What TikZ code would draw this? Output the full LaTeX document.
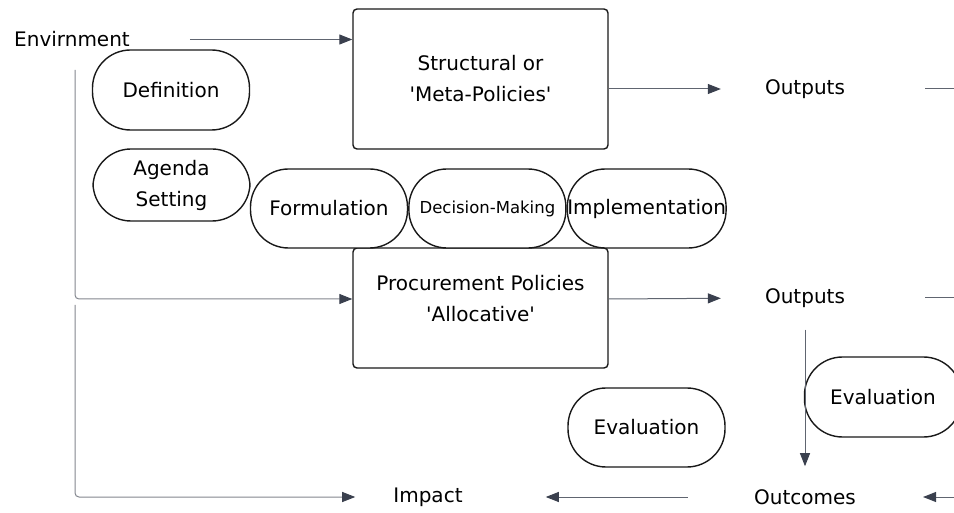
\documentclass[tikz,border=0pt]{standalone}
\usepackage{fontspec}
\setmainfont{DejaVu Sans}
\usepackage{tikz}
\usetikzlibrary{positioning,arrows.meta}
\definecolor{linegray}{RGB}{96,101,112}
\definecolor{tipgray}{RGB}{58,64,78}
\definecolor{sidegray}{RGB}{130,134,142}
\tikzset{
  line/.style={-{Triangle[length=13pt,width=10pt,color=tipgray]}, draw=linegray, line width=1pt},
  plainline/.style={draw=linegray, line width=1pt},
  box/.style={draw=black!90, rounded corners=4pt, line width=1.4pt, minimum width=255pt},
  pill/.style={draw=black!90, fill=white, rounded corners=38pt, line width=1.4pt, align=center,
    inner xsep=0pt, minimum width=157pt, minimum height=79pt},
  % plain text labels
  txt/.style={inner sep=0pt, align=center}
}
\begin{document}
\begin{tikzpicture}[x=1pt, y=-1pt, font=\fontsize{20}{31}\selectfont]
  \useasboundingbox (0,0) rectangle (954,513);
  \node[txt] (env) at (72,39.5) {Envirnment};
  \node[box, minimum height=140pt] (meta) at (480.5,79) {};
  \node[txt] (metatxt) at (meta) {Structural or\\\textquotesingle Meta-Policies\textquotesingle};
  \node[box, minimum height=120pt] (alloc) at (480.5,308) {};
  \node[txt] (alloctxt) at (480.5,299) {Procurement Policies\\\textquotesingle Allocative\textquotesingle};
  \node[pill, minimum height=80pt] (def) at (171,90) {Definition};
  \node[pill, minimum height=72pt] (agenda) at (171.5,185) {Agenda\\Setting};
  \node[pill] (form) at (329,208.5) {Formulation};
  \node[pill, right=0pt of form, font=\fontsize{16.5}{20}\selectfont] (dm) {Decision-Making};
  \node[pill, right=0pt of dm] (impl) {Implementation};
  \node[txt] (out1) at (805,89) {Outputs};
  \node[txt] (out2) at (805,298) {Outputs};
  \node[txt] (outc) at (805,497) {Outcomes};
  \node[txt] (imp) at (428,497) {Impact};
  \node[pill] (evA) at (646.5,427.5) {Evaluation};
  \node[pill, minimum height=80pt] (evB) at (883,397) {Evaluation};
  \coordinate (r1) at (954,89);
  \coordinate (r2) at (954,298);
  \coordinate (r3) at (954,497);
  \coordinate (la) at (75,70);
  \coordinate (lb) at (75,305);
  \draw[line, shorten <=60pt] (env.east) -- (env -| meta.west);
  \draw[line, shorten >=44pt] (out1 -| meta.east) -- (out1.west);
  \draw[plainline, shorten <=80pt] (out1.east) -- (r1);
  \draw[line, shorten >=44pt] (alloctxt -| alloc.east) -- (out2.west);
  \draw[plainline, shorten <=80pt] (out2.east) -- (r2);
  \draw[line, shorten <=22pt, shorten >=23pt] (out2.south) -- (outc.north);
  \draw[line, shorten >=67pt] (r3) -- (outc.east);
  \draw[line, shorten <=66pt, shorten >=83pt] (outc.west) -- (imp.east);
  \draw[line, draw=sidegray, rounded corners=4pt] (la) |- (alloctxt -| alloc.west);
  \draw[line, draw=sidegray, rounded corners=4pt, shorten >=38pt] (lb) |- (imp.west);
\end{tikzpicture}
\end{document}
